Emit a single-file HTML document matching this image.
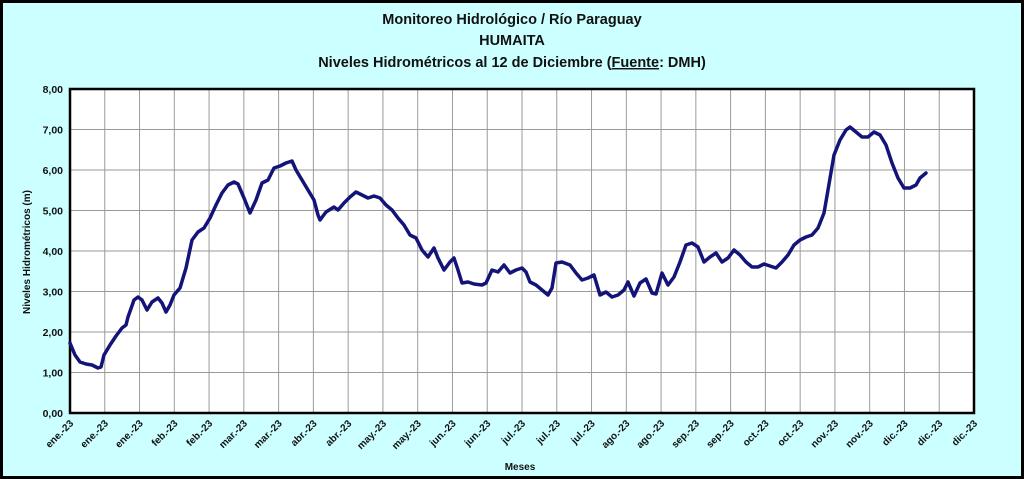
<!DOCTYPE html>
<html><head><meta charset="utf-8"><style>
body{margin:0;background:#fff}
svg{display:block}
text{font-family:"Liberation Sans",Arial,sans-serif;font-weight:bold;fill:#111}
</style></head><body>
<svg width="1024" height="479" viewBox="0 0 1024 479" xmlns="http://www.w3.org/2000/svg">
<rect x="1.5" y="1.5" width="1021" height="476" fill="#ccffff" stroke="#000" stroke-width="3"/>
<text x="512" y="24" font-size="14.5" text-anchor="middle">Monitoreo Hidrológico / Río Paraguay</text>
<text x="512" y="45" font-size="14.5" text-anchor="middle">HUMAITA</text>
<text x="512" y="67" font-size="14.5" text-anchor="middle">Niveles Hidrométricos  al 12 de Diciembre (<tspan text-decoration="underline">Fuente</tspan>: DMH)</text>
<rect x="70" y="89" width="904" height="324" fill="#fff"/>
<g stroke="#9a9a9a" stroke-width="1" id="grid"></g>
<rect x="70" y="89" width="904" height="324" fill="none" stroke="#000" stroke-width="2.5"/>
<g id="yl" font-size="10.5"></g>
<g id="xl" font-size="10"></g>
<text transform="translate(30,252) rotate(-90)" font-size="10" text-anchor="middle">Niveles Hidrométricos (m)</text>
<text x="520" y="470" font-size="10" text-anchor="middle">Meses</text>
<polyline id="ln" fill="none" stroke="#141478" stroke-width="3.5" stroke-linejoin="round" stroke-linecap="round" points="70,343 75,355 80,362 86,364 92,365 98,368 101,367 104,355 110,345 116,336 122,328 126,325 128,317 134,300 138,297 142,300 147,310 152,302 158,298 162,303 166,312 170,305 174,295 180,288 186,268 192,240 198,232 204,228 210,218 216,205 222,193 228,185 234,182 238,184 244,198 250,213 256,200 262,183 268,180 274,168 280,166 286,163 292,161 296,170 302,180 308,190 314,200 318,215 320,220 326,212 334,207 338,210 344,203 350,197 356,192 362,195 368,198 374,196 380,198 386,205 392,210 398,218 404,225 410,235 416,238 422,250 428,257 434,248 438,258 444,270 450,262 454,258 458,270 462,283 468,282 474,284 482,285 486,283 492,270 498,272 504,265 510,273 516,270 522,268 526,272 530,282 536,285 542,290 548,295 552,288 556,263 562,262 570,265 576,273 582,280 588,278 594,275 600,295 606,292 612,297 618,295 624,290 628,282 634,296 640,283 646,279 652,293 656,294 662,273 668,285 674,277 680,262 686,245 692,243 698,247 704,262 710,257 716,253 722,262 728,258 734,250 740,255 746,262 752,267 758,267 764,264 770,266 776,268 782,262 788,255 794,245 800,240 806,237 812,235 818,228 824,213 828,190 834,155 840,140 846,130 850,127 856,132 862,137 868,137 874,132 880,135 886,145 892,163 898,178 904,188 910,188 916,185 920,178 926,173"/>
</svg>
<script>
var ns="http://www.w3.org/2000/svg",g=document.getElementById("grid"),yl=document.getElementById("yl"),xl=document.getElementById("xl");
function el(p,t,a,txt){var e=document.createElementNS(ns,t);for(var k in a)e.setAttribute(k,a[k]);if(txt)e.textContent=txt;p.appendChild(e);}
for(var i=0;i<=8;i++){var y=413-i*40.5;el(g,"line",{x1:70,x2:974,y1:y,y2:y});el(yl,"text",{x:63,y:y+4,"text-anchor":"end"},i+",00");}
var m=["ene","ene","ene","feb","feb","mar","mar","abr","abr","may","may","jun","jun","jul","jul","jul","ago","ago","sep","sep","oct","oct","nov","nov","dic","dic","dic"];
for(var j=0;j<27;j++){var x=70+j*904/26;el(g,"line",{x1:x,x2:x,y1:89,y2:413});el(xl,"text",{transform:"translate("+(x+4)+",424) rotate(-45)","text-anchor":"end"},m[j]+".-23");}
</script>
</body></html>
